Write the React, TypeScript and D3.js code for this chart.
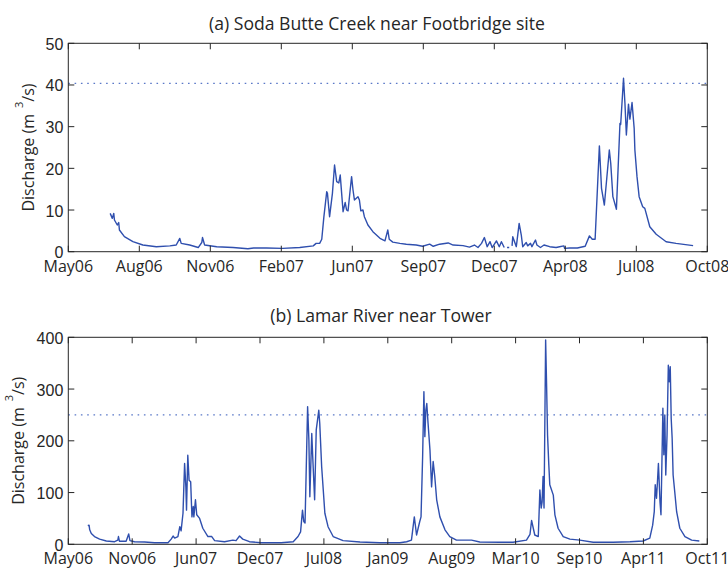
import React from "react";
import * as d3 from "d3";

// ---------- Data ----------
const axisStart = "2006-05-04";

// (a) Soda Butte Creek near Footbridge site (m3/s); null = data gap
const sodaDates = [
  "2006-07-02","2006-07-05","2006-07-07","2006-07-08","2006-07-12","2006-07-14","2006-07-15","2006-07-22",
  "2006-08-03","2006-08-17","2006-09-05","2006-09-24","2006-10-03","2006-10-08","2006-10-10","2006-10-22",
  "2006-11-03","2006-11-08","2006-11-09","2006-11-12","2006-11-29","2006-12-22","2007-01-12","2007-01-20",
  "2007-02-07","2007-03-02","2007-03-26","2007-04-14","2007-04-18","2007-04-23","2007-04-26","2007-04-29",
  "2007-05-03","2007-05-04","2007-05-07","2007-05-11","2007-05-14","2007-05-17","2007-05-20","2007-05-22",
  "2007-05-24","2007-05-26","2007-05-29","2007-05-31","2007-06-02","2007-06-05","2007-06-07","2007-06-09",
  "2007-06-11","2007-06-16","2007-06-18","2007-06-20","2007-06-23","2007-06-25","2007-06-30","2007-07-07",
  "2007-07-17","2007-07-24","2007-07-28","2007-07-30","2007-08-04","2007-08-14","2007-08-23","2007-09-06",
  "2007-09-15","2007-09-25","2007-09-30","2007-10-09","2007-10-21","2007-10-28","2007-11-11","2007-11-20",
  "2007-11-27","2007-12-02","2007-12-07","2007-12-11","2007-12-15","2007-12-19","2007-12-22","2007-12-28",
  "2008-01-01","2008-01-04","2008-01-08","2008-01-10","2008-01-12","2008-01-15","2008-01-17","2008-01-19",
  "2008-01-20","2008-01-25","2008-01-29","2008-02-01","2008-02-03","2008-02-08","2008-02-10","2008-02-14",
  "2008-02-16","2008-02-21","2008-02-23","2008-02-28","2008-03-04","2008-03-12","2008-03-21","2008-03-26",
  "2008-04-01","2008-04-02","2008-04-09","2008-04-20","2008-05-01","2008-05-07","2008-05-11","2008-05-15",
  "2008-05-21","2008-05-24","2008-05-28","2008-06-04","2008-06-06","2008-06-09","2008-06-14","2008-06-19",
  "2008-06-20","2008-06-24","2008-06-26","2008-06-28","2008-07-01","2008-07-03","2008-07-06","2008-07-09",
  "2008-07-10","2008-07-13","2008-07-16","2008-07-21","2008-07-24","2008-07-31","2008-08-09","2008-08-23",
  "2008-09-06","2008-09-30",
];
const sodaQ = [
  9.2, 8.0, 9.2, 7.6, 6.4, 7.0, 5.2, 3.6,
  2.4, 1.6, 1.2, 1.4, 1.6, 3.2, 2.0, 1.6,
  1.0, 2.2, 3.4, 1.6, 1.2, 1.0, 0.7, 0.9,
  0.9, 0.8, 1.0, 1.4, 2.0, 2.0, 3.0, 8.4,
  14.4, 14.0, 8.4, 14.0, 20.8, 16.8, 16.5, 18.4,
  14.0, 9.6, 11.8, 10.0, 9.8, 14.8, 18.0, 14.8,
  12.4, 13.2, 12.4, 9.8, 10.0, 8.4, 6.4, 4.8,
  3.2, 2.6, 5.2, 3.0, 2.3, 2.0, 1.8, 1.6,
  1.3, 1.8, 1.3, 1.8, 2.1, 1.6, 1.45, 1.1,
  1.6, 1.0, 2.0, 3.4, 1.2, 2.4, 1.0, 2.6,
  1.2, 2.4, 1.0, null, 1.0, 1.0, null, 1.4,
  3.6, 1.2, 6.8, 4.0, 1.2, 2.2, 1.4, 2.0,
  1.2, 2.8, 1.6, 1.0, 1.6, 1.2, 1.0, 1.2,
  1.4, 0.8, 0.9, 0.9, 1.3, 3.8, 3.0, 3.0,
  25.4, 15.2, 11.2, 24.4, 21.2, 13.2, 10.2, 30.8,
  30.5, 41.6, 35.6, 28.0, 35.4, 31.8, 35.8, 29.6,
  24.4, 18.0, 13.2, 10.8, 10.4, 6.0, 4.2, 2.4,
  2.0, 1.45,
];

// (b) Lamar River near Tower (m3/s)
const lamarDates = [
  "2006-07-04","2006-07-08","2006-07-10","2006-07-15","2006-07-25","2006-08-10","2006-08-31","2006-09-26",
  "2006-10-06","2006-10-08","2006-10-11","2006-11-01","2006-11-09","2006-11-13","2006-11-27","2006-12-29",
  "2007-01-29","2007-03-12","2007-03-22","2007-03-28","2007-04-02","2007-04-12","2007-04-18","2007-04-22",
  "2007-04-28","2007-05-03","2007-05-07","2007-05-09","2007-05-13","2007-05-17","2007-05-22","2007-05-26",
  "2007-05-30","2007-06-01","2007-06-06","2007-06-10","2007-06-19","2007-06-29","2007-07-15","2007-07-27",
  "2007-08-05","2007-09-05","2007-10-01","2007-10-11","2007-10-22","2007-11-01","2007-11-22","2007-12-29",
  "2008-02-29","2008-04-07","2008-04-22","2008-04-30","2008-05-06","2008-05-10","2008-05-14","2008-05-22",
  "2008-05-26","2008-05-29","2008-06-04","2008-06-07","2008-06-13","2008-06-18","2008-06-22","2008-06-26",
  "2008-06-29","2008-07-05","2008-07-10","2008-07-15","2008-07-25","2008-08-10","2008-09-10","2008-11-02",
  "2009-01-03","2009-03-07","2009-03-28","2009-04-12","2009-04-21","2009-04-28","2009-05-03","2009-05-08",
  "2009-05-12","2009-05-17","2009-05-21","2009-05-24","2009-05-27","2009-05-30","2009-06-03","2009-06-09",
  "2009-06-14","2009-06-19","2009-06-24","2009-06-30","2009-07-10","2009-07-26","2009-08-10","2009-08-31",
  "2009-10-17","2009-11-12","2010-01-14","2010-02-24","2010-04-07","2010-04-18","2010-04-23","2010-04-28",
  "2010-05-03","2010-05-14","2010-05-19","2010-05-23","2010-05-26","2010-05-29","2010-06-01","2010-06-06",
  "2010-06-09","2010-06-12","2010-06-16","2010-06-19","2010-06-23","2010-06-30","2010-07-05","2010-07-15",
  "2010-07-31","2010-08-21","2010-09-21","2010-11-02","2011-01-03","2011-02-25","2011-04-07","2011-04-28",
  "2011-05-07","2011-05-12","2011-05-15","2011-05-19","2011-05-22","2011-05-25","2011-05-30","2011-06-02",
  "2011-06-05","2011-06-08","2011-06-11","2011-06-14","2011-06-17","2011-06-21","2011-06-25","2011-06-28",
  "2011-07-01","2011-07-04","2011-07-07","2011-07-10","2011-07-15","2011-07-21","2011-07-31","2011-08-16",
  "2011-09-06","2011-09-30",
];
const lamarQ = [
  36, 37, 28, 21, 15, 10, 6.4, 5,
  8, 15, 6, 6, 20, 7, 5, 4.4,
  3, 3, 10, 16, 12, 15, 34, 26,
  60, 156, 111, 66, 172, 124, 121, 53,
  73, 53, 86, 57, 50, 31, 15, 15,
  7, 5, 8, 7, 16, 10, 5, 3,
  3, 5, 15, 24, 66, 44, 41, 266,
  202, 92, 214, 169, 86, 221, 240, 259,
  234, 150, 105, 60, 34, 15, 7, 4.4,
  3, 3, 5, 8, 53, 18, 31, 44,
  53, 169, 295, 208, 259, 272, 234, 182,
  111, 160, 131, 86, 53, 28, 15, 8,
  8, 4.4, 4, 4, 8, 19, 46, 32,
  18, 15, 105, 70, 82, 131, 70, 395,
  308, 211, 153, 115, 108, 95, 57, 31,
  15, 10, 8, 4, 4, 5, 6.4, 12,
  37, 63, 115, 89, 121, 156, 82, 57,
  160, 263, 173, 250, 134, 211, 346, 314,
  343, 243, 205, 134, 102, 63, 31, 15,
  8, 6.4,
];

const sodaThreshold = 40.4;
const lamarThreshold = 250;
const sodaYTicks = [0, 10, 20, 30, 40, 50];
const lamarYTicks = [0, 100, 200, 300, 400];
const sodaTickStepDays = 100;
const sodaTickCount = 10;
const lamarTickStepDays = 200;
const lamarTickCount = 11;
const sodaTitle = "(a) Soda Butte Creek near Footbridge site";
const lamarTitle = "(b) Lamar River near Tower";

// ---------- Layout ----------
const W = 728;
const H = 568;
const L = 68.3;
const R = 707.3;
const TICK = 6;
const LINE_COLOR = "#2f4fae";
const DOT_COLOR = "#5a78c8";
const AXIS_COLOR = "#262626";
const HUMANIST = "'Open Sans', 'Noto Sans', sans-serif";
const NUMFONT = "'Liberation Sans', Arial, sans-serif";

const parse = d3.utcParse("%Y-%m-%d");
const fmt = d3.utcFormat("%b%y");

type PanelProps = {
  title: string;
  titleX: number;
  titleY: number;
  top: number;
  bottom: number;
  dates: string[];
  values: (number | null)[];
  yTicks: number[];
  threshold: number;
  tickStep: number;
  tickCount: number;
  ylabelX: number;
};

function Panel(p: PanelProps) {
  const start = parse(axisStart) as Date;
  const xTicks = d3.range(p.tickCount).map((i) => d3.utcDay.offset(start, i * p.tickStep));
  const x = d3.scaleUtc().domain([xTicks[0], xTicks[xTicks.length - 1]]).range([L, R]);
  const yMax = p.yTicks[p.yTicks.length - 1];
  const y = d3.scaleLinear().domain([0, yMax]).range([p.bottom, p.top]);
  const pts = p.dates.map((d, i) => ({ d: parse(d) as Date, v: p.values[i] }));
  const line = d3
    .line<{ d: Date; v: number | null }>()
    .defined((q) => q.v != null)
    .x((q) => x(q.d))
    .y((q) => y(q.v as number));
  const midY = (p.top + p.bottom) / 2;

  return (
    <g>
      <text x={p.titleX} y={p.titleY} textAnchor="middle" fontFamily={HUMANIST} fontSize={17.6} fill="#262626">
        {p.title}
      </text>
      {/* threshold */}
      <line
        x1={L}
        x2={R}
        y1={y(p.threshold)}
        y2={y(p.threshold)}
        stroke={DOT_COLOR}
        strokeWidth={1.3}
        strokeDasharray="1.6 4.7"
      />
      {/* data */}
      <path d={line(pts) || ""} fill="none" stroke={LINE_COLOR} strokeWidth={1.4} strokeLinejoin="round" />
      {/* box */}
      <rect x={L} y={p.top} width={R - L} height={p.bottom - p.top} fill="none" stroke={AXIS_COLOR} strokeWidth={1} />
      {/* x ticks */}
      {xTicks.map((t, i) => (
        <g key={"xt" + i}>
          <line x1={x(t)} x2={x(t)} y1={p.bottom} y2={p.bottom - TICK} stroke={AXIS_COLOR} />
          <line x1={x(t)} x2={x(t)} y1={p.top} y2={p.top + TICK} stroke={AXIS_COLOR} />
          <text x={x(t)} y={p.bottom + 20} textAnchor="middle" fontFamily={HUMANIST} fontSize={16} fill="#262626">
            {fmt(t)}
          </text>
        </g>
      ))}
      {/* y ticks */}
      {p.yTicks.map((v, i) => (
        <g key={"yt" + i}>
          <line x1={L} x2={L + TICK} y1={y(v)} y2={y(v)} stroke={AXIS_COLOR} />
          <line x1={R} x2={R - TICK} y1={y(v)} y2={y(v)} stroke={AXIS_COLOR} />
          <text x={L - 5} y={y(v) + 6.5} textAnchor="end" fontFamily={NUMFONT} fontSize={16} fill="#262626">
            {v}
          </text>
        </g>
      ))}
      {/* y label */}
      <text
        transform={`translate(${p.ylabelX},${midY}) rotate(-90)`}
        textAnchor="middle"
        fontFamily={HUMANIST}
        fontSize={16}
        fill="#262626"
      >
        Discharge (m
        <tspan dx={6} dy={-11} fontSize={11}>3</tspan>
        <tspan dy={11} fontSize={16}>/s)</tspan>
      </text>
    </g>
  );
}

export default function App() {
  return (
    <svg
      width={W}
      height={H}
      viewBox={`0 0 ${W} ${H}`}
      style={{ position: "absolute", left: 0, top: 0, display: "block", background: "#fff" }}
    >
      <rect x={0} y={0} width={W} height={H} fill="#fff" />
      <Panel
        title={sodaTitle}
        titleX={377}
        titleY={29.5}
        top={43.3}
        bottom={251.7}
        dates={sodaDates}
        values={sodaQ}
        yTicks={sodaYTicks}
        threshold={sodaThreshold}
        tickStep={sodaTickStepDays}
        tickCount={sodaTickCount}
        ylabelX={33.5}
      />
      <Panel
        title={lamarTitle}
        titleX={381}
        titleY={321.5}
        top={337.3}
        bottom={544.3}
        dates={lamarDates}
        values={lamarQ}
        yTicks={lamarYTicks}
        threshold={lamarThreshold}
        tickStep={lamarTickStepDays}
        tickCount={lamarTickCount}
        ylabelX={24}
      />
    </svg>
  );
}
